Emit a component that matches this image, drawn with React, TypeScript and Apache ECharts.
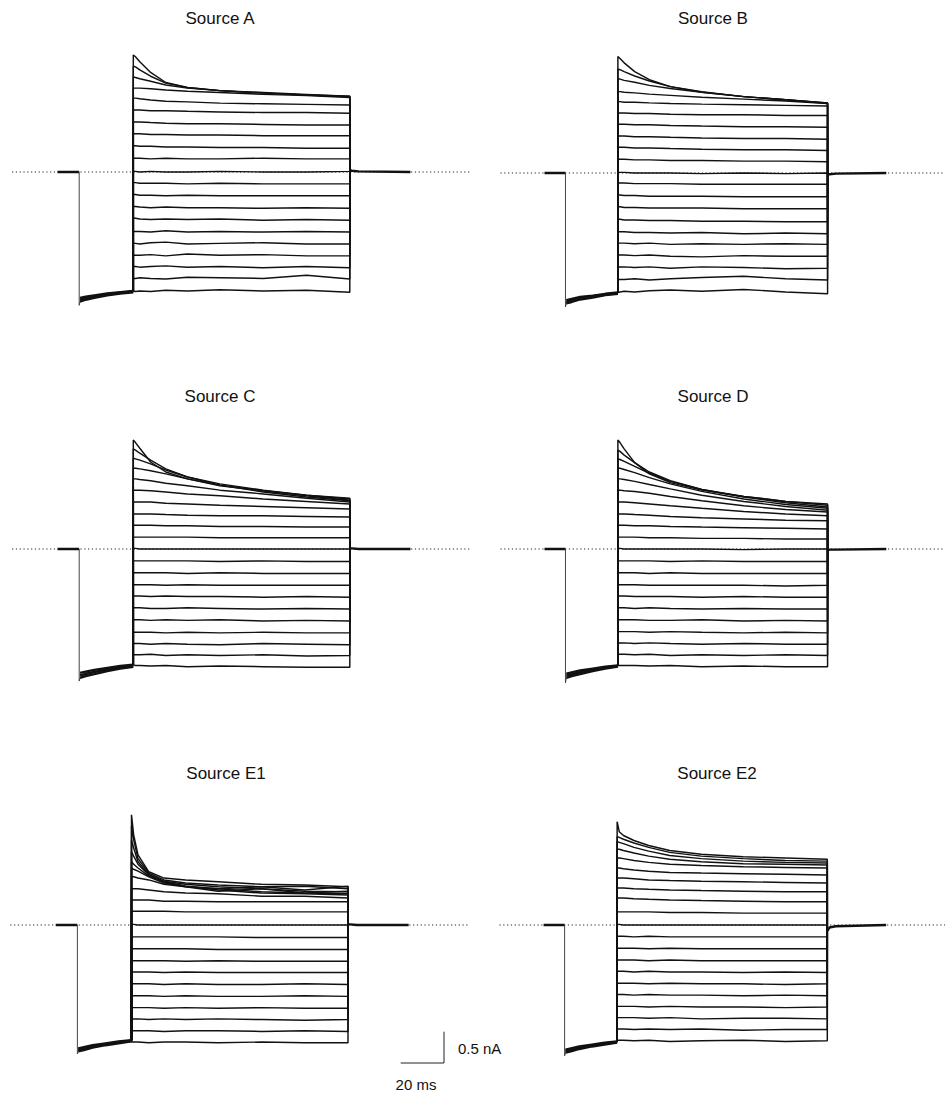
import React, { useEffect, useRef } from "react";
import * as echarts from "echarts";

// ---------- data (nA vs ms) ----------
const stepTimes = [0, 1, 3, 8, 15, 25, 40, 60, 80, 100];
const prepulseTimes = [-24.6, -22, -18, -12, -6, 0];
const tailTimes = [100, 101, 104, 128];
const holdingStart = -35;
const prepulseStart = -25;
const stepEnd = 100;
const viewMin = -56;
const viewMax = 156;
const yMin = -2.4;
const yMax = 2.0;

const titles = ["Source A", "Source B", "Source C", "Source D", "Source E1", "Source E2"];

// rows: sweep levels -10 ... +10, values at stepTimes
const sweepsA = [
  [-1.91, -1.91, -1.90, -1.91, -1.89, -1.90, -1.88, -1.90, -1.89, -1.92],
  [-1.70, -1.70, -1.69, -1.70, -1.71, -1.68, -1.69, -1.70, -1.65, -1.71],
  [-1.51, -1.51, -1.52, -1.51, -1.50, -1.52, -1.51, -1.53, -1.51, -1.53],
  [-1.33, -1.33, -1.33, -1.32, -1.34, -1.31, -1.33, -1.32, -1.34, -1.34],
  [-1.14, -1.14, -1.15, -1.13, -1.12, -1.15, -1.14, -1.13, -1.15, -1.15],
  [-0.95, -0.95, -0.95, -0.96, -0.94, -0.96, -0.95, -0.96, -0.95, -0.96],
  [-0.74, -0.74, -0.75, -0.76, -0.75, -0.76, -0.75, -0.77, -0.76, -0.77],
  [-0.55, -0.55, -0.56, -0.57, -0.56, -0.57, -0.57, -0.58, -0.57, -0.58],
  [-0.36, -0.36, -0.37, -0.37, -0.38, -0.37, -0.38, -0.38, -0.38, -0.38],
  [-0.17, -0.17, -0.18, -0.18, -0.18, -0.19, -0.18, -0.19, -0.19, -0.19],
  [0.01, 0.01, 0.00, 0.01, 0.00, 0.00, 0.01, 0.00, 0.00, 0.01],
  [0.22, 0.22, 0.22, 0.21, 0.22, 0.21, 0.21, 0.22, 0.21, 0.21],
  [0.42, 0.42, 0.41, 0.41, 0.40, 0.40, 0.39, 0.39, 0.38, 0.38],
  [0.61, 0.61, 0.61, 0.60, 0.60, 0.59, 0.59, 0.58, 0.58, 0.58],
  [0.80, 0.80, 0.80, 0.79, 0.78, 0.77, 0.77, 0.76, 0.75, 0.75],
  [0.99, 0.99, 0.99, 0.98, 0.98, 0.97, 0.96, 0.95, 0.95, 0.94],
  [1.18, 1.18, 1.17, 1.15, 1.13, 1.12, 1.10, 1.09, 1.08, 1.07],
  [1.34, 1.34, 1.34, 1.33, 1.31, 1.29, 1.27, 1.24, 1.22, 1.19],
  [1.52, 1.51, 1.49, 1.45, 1.39, 1.34, 1.30, 1.26, 1.23, 1.21],
  [1.69, 1.68, 1.63, 1.53, 1.42, 1.35, 1.30, 1.27, 1.24, 1.21],
  [1.87, 1.84, 1.76, 1.59, 1.43, 1.35, 1.30, 1.26, 1.23, 1.20],
];

const sweepsB = [
  [-1.90, -1.90, -1.89, -1.90, -1.88, -1.87, -1.89, -1.86, -1.90, -1.93],
  [-1.70, -1.70, -1.70, -1.69, -1.71, -1.69, -1.67, -1.65, -1.69, -1.71],
  [-1.50, -1.50, -1.50, -1.51, -1.50, -1.52, -1.50, -1.51, -1.53, -1.52],
  [-1.31, -1.31, -1.31, -1.32, -1.31, -1.33, -1.34, -1.32, -1.33, -1.33],
  [-1.12, -1.12, -1.12, -1.13, -1.12, -1.14, -1.13, -1.14, -1.13, -1.14],
  [-0.94, -0.94, -0.94, -0.95, -0.95, -0.96, -0.95, -0.97, -0.96, -0.97],
  [-0.74, -0.74, -0.75, -0.75, -0.76, -0.76, -0.77, -0.77, -0.78, -0.78],
  [-0.54, -0.54, -0.55, -0.55, -0.56, -0.56, -0.56, -0.57, -0.57, -0.57],
  [-0.35, -0.35, -0.36, -0.36, -0.37, -0.37, -0.37, -0.38, -0.38, -0.38],
  [-0.16, -0.16, -0.16, -0.17, -0.17, -0.17, -0.18, -0.18, -0.18, -0.18],
  [0.01, 0.01, 0.01, 0.00, 0.00, 0.00, -0.01, 0.00, -0.01, 0.00],
  [0.22, 0.22, 0.22, 0.21, 0.21, 0.20, 0.20, 0.19, 0.19, 0.18],
  [0.41, 0.41, 0.41, 0.40, 0.40, 0.39, 0.38, 0.37, 0.37, 0.36],
  [0.59, 0.59, 0.59, 0.58, 0.58, 0.57, 0.56, 0.55, 0.55, 0.54],
  [0.78, 0.78, 0.78, 0.77, 0.77, 0.76, 0.75, 0.74, 0.74, 0.73],
  [0.96, 0.96, 0.96, 0.95, 0.95, 0.94, 0.93, 0.93, 0.92, 0.92],
  [1.14, 1.14, 1.13, 1.13, 1.12, 1.11, 1.10, 1.09, 1.08, 1.07],
  [1.30, 1.30, 1.29, 1.28, 1.26, 1.24, 1.21, 1.18, 1.15, 1.11],
  [1.51, 1.50, 1.48, 1.45, 1.40, 1.35, 1.29, 1.22, 1.17, 1.12],
  [1.66, 1.65, 1.62, 1.55, 1.47, 1.38, 1.30, 1.22, 1.17, 1.11],
  [1.86, 1.83, 1.76, 1.62, 1.49, 1.38, 1.29, 1.22, 1.17, 1.12],
];

const sweepsC = [
  [-1.86, -1.86, -1.86, -1.87, -1.86, -1.88, -1.87, -1.88, -1.89, -1.89],
  [-1.69, -1.69, -1.69, -1.68, -1.70, -1.69, -1.70, -1.69, -1.71, -1.70],
  [-1.51, -1.51, -1.51, -1.52, -1.51, -1.52, -1.53, -1.51, -1.52, -1.53],
  [-1.33, -1.33, -1.33, -1.33, -1.34, -1.33, -1.34, -1.33, -1.34, -1.34],
  [-1.13, -1.13, -1.13, -1.14, -1.13, -1.14, -1.13, -1.15, -1.14, -1.15],
  [-0.94, -0.94, -0.94, -0.95, -0.95, -0.94, -0.95, -0.96, -0.95, -0.96],
  [-0.75, -0.75, -0.75, -0.76, -0.75, -0.76, -0.76, -0.77, -0.76, -0.77],
  [-0.57, -0.57, -0.57, -0.57, -0.58, -0.57, -0.58, -0.58, -0.58, -0.58],
  [-0.38, -0.38, -0.38, -0.38, -0.38, -0.39, -0.38, -0.39, -0.39, -0.39],
  [-0.19, -0.19, -0.19, -0.19, -0.19, -0.19, -0.20, -0.19, -0.20, -0.20],
  [0.01, 0.01, 0.00, 0.00, 0.00, 0.00, 0.00, 0.00, 0.00, 0.00],
  [0.19, 0.19, 0.19, 0.19, 0.19, 0.19, 0.18, 0.18, 0.18, 0.18],
  [0.38, 0.38, 0.38, 0.38, 0.37, 0.37, 0.36, 0.36, 0.35, 0.35],
  [0.56, 0.56, 0.56, 0.56, 0.55, 0.54, 0.53, 0.53, 0.52, 0.51],
  [0.75, 0.75, 0.75, 0.75, 0.73, 0.72, 0.70, 0.68, 0.66, 0.64],
  [0.94, 0.94, 0.94, 0.93, 0.91, 0.88, 0.85, 0.80, 0.76, 0.72],
  [1.12, 1.12, 1.11, 1.09, 1.05, 1.01, 0.94, 0.88, 0.81, 0.75],
  [1.29, 1.29, 1.28, 1.25, 1.20, 1.12, 1.02, 0.93, 0.85, 0.78],
  [1.45, 1.44, 1.42, 1.36, 1.26, 1.15, 1.04, 0.94, 0.86, 0.80],
  [1.60, 1.58, 1.53, 1.42, 1.28, 1.15, 1.02, 0.91, 0.83, 0.77],
  [1.74, 1.70, 1.61, 1.39, 1.23, 1.12, 1.01, 0.93, 0.86, 0.81],
];

const sweepsD = [
  [-1.86, -1.86, -1.86, -1.86, -1.87, -1.86, -1.88, -1.87, -1.88, -1.88],
  [-1.68, -1.68, -1.68, -1.69, -1.68, -1.70, -1.69, -1.70, -1.69, -1.70],
  [-1.50, -1.50, -1.50, -1.51, -1.50, -1.51, -1.52, -1.51, -1.52, -1.52],
  [-1.32, -1.32, -1.32, -1.32, -1.33, -1.32, -1.33, -1.34, -1.33, -1.34],
  [-1.13, -1.13, -1.13, -1.13, -1.14, -1.14, -1.13, -1.15, -1.14, -1.15],
  [-0.94, -0.94, -0.94, -0.95, -0.94, -0.95, -0.96, -0.95, -0.96, -0.96],
  [-0.75, -0.75, -0.75, -0.76, -0.76, -0.76, -0.77, -0.76, -0.77, -0.77],
  [-0.57, -0.57, -0.57, -0.57, -0.58, -0.58, -0.58, -0.58, -0.59, -0.58],
  [-0.38, -0.38, -0.38, -0.38, -0.39, -0.38, -0.39, -0.39, -0.39, -0.39],
  [-0.19, -0.19, -0.19, -0.19, -0.19, -0.20, -0.19, -0.20, -0.20, -0.20],
  [0.01, 0.01, 0.00, 0.00, 0.00, 0.00, 0.00, -0.01, 0.00, 0.00],
  [0.19, 0.19, 0.19, 0.19, 0.18, 0.18, 0.17, 0.17, 0.16, 0.16],
  [0.38, 0.38, 0.38, 0.37, 0.37, 0.36, 0.35, 0.34, 0.33, 0.32],
  [0.56, 0.56, 0.56, 0.55, 0.54, 0.52, 0.50, 0.48, 0.46, 0.45],
  [0.75, 0.75, 0.75, 0.74, 0.72, 0.69, 0.65, 0.60, 0.56, 0.53],
  [0.94, 0.94, 0.93, 0.92, 0.89, 0.84, 0.77, 0.69, 0.63, 0.59],
  [1.12, 1.12, 1.11, 1.08, 1.03, 0.96, 0.86, 0.76, 0.68, 0.62],
  [1.29, 1.29, 1.27, 1.22, 1.14, 1.04, 0.92, 0.80, 0.71, 0.65],
  [1.44, 1.43, 1.40, 1.32, 1.21, 1.08, 0.95, 0.84, 0.76, 0.72],
  [1.58, 1.56, 1.50, 1.38, 1.23, 1.09, 0.95, 0.83, 0.74, 0.67],
  [1.74, 1.70, 1.60, 1.38, 1.20, 1.06, 0.94, 0.84, 0.76, 0.70],
];

const sweepsE1 = [
  [-1.87, -1.87, -1.87, -1.88, -1.87, -1.87, -1.88, -1.87, -1.88, -1.88],
  [-1.69, -1.69, -1.69, -1.69, -1.70, -1.69, -1.69, -1.70, -1.69, -1.70],
  [-1.50, -1.50, -1.50, -1.51, -1.50, -1.51, -1.50, -1.51, -1.52, -1.51],
  [-1.32, -1.32, -1.32, -1.32, -1.33, -1.32, -1.33, -1.32, -1.33, -1.33],
  [-1.13, -1.13, -1.13, -1.13, -1.14, -1.13, -1.14, -1.14, -1.13, -1.14],
  [-0.94, -0.94, -0.94, -0.94, -0.95, -0.94, -0.95, -0.95, -0.94, -0.95],
  [-0.75, -0.75, -0.75, -0.75, -0.76, -0.75, -0.76, -0.76, -0.76, -0.76],
  [-0.57, -0.57, -0.57, -0.57, -0.57, -0.58, -0.57, -0.58, -0.58, -0.58],
  [-0.38, -0.38, -0.38, -0.38, -0.38, -0.38, -0.39, -0.39, -0.39, -0.39],
  [-0.19, -0.19, -0.19, -0.19, -0.19, -0.19, -0.19, -0.20, -0.20, -0.20],
  [0.01, 0.01, 0.00, 0.00, 0.00, 0.00, 0.00, 0.00, 0.00, 0.00],
  [0.22, 0.22, 0.22, 0.22, 0.22, 0.21, 0.21, 0.21, 0.21, 0.21],
  [0.40, 0.40, 0.40, 0.40, 0.38, 0.38, 0.37, 0.37, 0.37, 0.37],
  [0.58, 0.58, 0.58, 0.56, 0.53, 0.51, 0.50, 0.46, 0.46, 0.43],
  [0.77, 0.77, 0.75, 0.72, 0.65, 0.61, 0.58, 0.53, 0.51, 0.50],
  [0.91, 0.89, 0.86, 0.77, 0.67, 0.61, 0.54, 0.58, 0.51, 0.54],
  [1.01, 0.97, 0.91, 0.78, 0.69, 0.62, 0.56, 0.51, 0.50, 0.48],
  [1.17, 1.10, 0.97, 0.80, 0.69, 0.62, 0.58, 0.61, 0.56, 0.62],
  [1.36, 1.23, 1.01, 0.81, 0.70, 0.65, 0.61, 0.58, 0.54, 0.53],
  [1.58, 1.36, 1.06, 0.83, 0.72, 0.67, 0.64, 0.61, 0.62, 0.58],
  [1.76, 1.44, 1.12, 0.85, 0.75, 0.72, 0.69, 0.65, 0.64, 0.61],
];

const sweepsE2 = [
  [-1.84, -1.84, -1.84, -1.85, -1.84, -1.86, -1.85, -1.84, -1.86, -1.85],
  [-1.66, -1.66, -1.66, -1.67, -1.66, -1.67, -1.66, -1.68, -1.67, -1.67],
  [-1.48, -1.48, -1.48, -1.48, -1.49, -1.48, -1.50, -1.49, -1.49, -1.50],
  [-1.30, -1.30, -1.30, -1.30, -1.31, -1.30, -1.31, -1.31, -1.32, -1.31],
  [-1.11, -1.11, -1.11, -1.12, -1.11, -1.12, -1.12, -1.13, -1.12, -1.13],
  [-0.93, -0.93, -0.93, -0.93, -0.94, -0.93, -0.94, -0.94, -0.95, -0.94],
  [-0.74, -0.74, -0.74, -0.75, -0.74, -0.75, -0.75, -0.76, -0.75, -0.76],
  [-0.56, -0.56, -0.56, -0.56, -0.57, -0.56, -0.57, -0.57, -0.57, -0.57],
  [-0.37, -0.37, -0.37, -0.37, -0.38, -0.37, -0.38, -0.38, -0.38, -0.38],
  [-0.18, -0.18, -0.18, -0.19, -0.18, -0.19, -0.19, -0.19, -0.19, -0.19],
  [0.01, 0.01, 0.00, 0.00, 0.00, 0.00, 0.00, 0.00, 0.00, 0.00],
  [0.21, 0.21, 0.21, 0.21, 0.21, 0.20, 0.20, 0.19, 0.19, 0.19],
  [0.43, 0.43, 0.43, 0.42, 0.41, 0.40, 0.39, 0.38, 0.37, 0.37],
  [0.59, 0.59, 0.59, 0.58, 0.57, 0.56, 0.55, 0.54, 0.53, 0.53],
  [0.75, 0.75, 0.75, 0.74, 0.72, 0.71, 0.70, 0.69, 0.68, 0.67],
  [0.91, 0.91, 0.90, 0.88, 0.86, 0.84, 0.83, 0.82, 0.81, 0.80],
  [1.07, 1.07, 1.06, 1.03, 1.00, 0.97, 0.95, 0.93, 0.92, 0.91],
  [1.21, 1.21, 1.19, 1.15, 1.10, 1.05, 1.01, 0.98, 0.97, 0.96],
  [1.33, 1.32, 1.30, 1.24, 1.18, 1.11, 1.06, 1.02, 1.00, 0.99],
  [1.41, 1.40, 1.37, 1.31, 1.24, 1.16, 1.10, 1.06, 1.03, 1.02],
  [1.65, 1.49, 1.43, 1.35, 1.27, 1.19, 1.13, 1.09, 1.07, 1.05],
];

// prepulse: capacitive spike, upper and lower edge of the sweep bundle at prepulseTimes
const prepulseSpike = [-2.13, -2.14, -2.11, -2.14, -2.06, -2.09];
const prepulseUpperA = [-2.01, -1.99, -1.97, -1.94, -1.92, -1.90];
const prepulseLowerA = [-2.07, -2.04, -2.01, -1.97, -1.94, -1.92];
const prepulseUpperB = [-2.03, -2.01, -1.98, -1.96, -1.93, -1.91];
const prepulseLowerB = [-2.08, -2.06, -2.02, -1.99, -1.95, -1.93];
const prepulseUpperC = [-1.98, -1.96, -1.93, -1.90, -1.87, -1.85];
const prepulseLowerC = [-2.06, -2.03, -2.00, -1.95, -1.91, -1.88];
const prepulseUpperD = [-1.99, -1.97, -1.94, -1.91, -1.88, -1.86];
const prepulseLowerD = [-2.06, -2.03, -2.00, -1.95, -1.91, -1.88];
const prepulseUpperE1 = [-1.97, -1.95, -1.92, -1.89, -1.86, -1.84];
const prepulseLowerE1 = [-2.02, -2.00, -1.96, -1.92, -1.89, -1.86];
const prepulseUpperE2 = [-1.99, -1.97, -1.94, -1.91, -1.88, -1.86];
const prepulseLowerE2 = [-2.04, -2.02, -1.98, -1.94, -1.91, -1.88];

// tail currents at tailTimes
const tailA = [0.03, 0.02, 0.01, 0.0];
const tailB = [-0.02, -0.02, -0.01, 0.0];
const tailC = [0.01, 0.01, 0.0, 0.0];
const tailD = [-0.02, -0.01, -0.01, 0.0];
const tailE1 = [0.01, 0.01, 0.0, 0.0];
const tailE2 = [-0.1, -0.04, -0.02, 0.0];

// scale bar
const scaleBarMs = 20;
const scaleBarNA = 0.5;

// ---------- layout ----------
const MS_PX = 2.165;
const NA_PX = 62.6;
const layout = [
  { xs: 133.3, yb: 172, tx: 220, ty: 18 },
  { xs: 621.7, yb: 173, tx: 713, ty: 18 },
  { xs: 133.3, yb: 549, tx: 220, ty: 396 },
  { xs: 621.7, yb: 549, tx: 713, ty: 396 },
  { xs: 131.5, yb: 925, tx: 226, ty: 773 },
  { xs: 620.7, yb: 925, tx: 717, ty: 773 },
];

const panels = [
  { sweeps: sweepsA, up: prepulseUpperA, lo: prepulseLowerA, tail: tailA },
  { sweeps: sweepsB, up: prepulseUpperB, lo: prepulseLowerB, tail: tailB },
  { sweeps: sweepsC, up: prepulseUpperC, lo: prepulseLowerC, tail: tailC },
  { sweeps: sweepsD, up: prepulseUpperD, lo: prepulseLowerD, tail: tailD },
  { sweeps: sweepsE1, up: prepulseUpperE1, lo: prepulseLowerE1, tail: tailE1 },
  { sweeps: sweepsE2, up: prepulseUpperE2, lo: prepulseLowerE2, tail: tailE2 },
];

const INK = "#111111";

function buildOption() {
  const grid: any[] = [];
  const xAxis: any[] = [];
  const yAxis: any[] = [];
  const series: any[] = [];
  const graphic: any[] = [];

  panels.forEach((p, i) => {
    const L = layout[i];
    grid.push({
      left: L.xs + viewMin * MS_PX,
      top: L.yb - yMax * NA_PX,
      width: (viewMax - viewMin) * MS_PX,
      height: (yMax - yMin) * NA_PX,
      containLabel: false,
    });
    xAxis.push({ type: "value", gridIndex: i, min: viewMin, max: viewMax, show: false });
    yAxis.push({ type: "value", gridIndex: i, min: yMin, max: yMax, show: false });
    const base = {
      type: "line",
      xAxisIndex: i,
      yAxisIndex: i,
      symbol: "none",
      showSymbol: false,
      silent: true,
      animation: false,
    };
    // dotted zero-current line
    series.push({
      ...base,
      data: [[viewMin, 0], [viewMax, 0]],
      lineStyle: { color: "#222", width: 1, type: [1.2, 2.6] },
      z: 1,
    });
    const preEnd = p.up[p.up.length - 1];
    p.sweeps.forEach((row) => {
      const d: number[][] = [[0, preEnd]];
      stepTimes.forEach((t, k) => d.push([t, row[k]]));
      d.push([stepEnd, p.tail[0]]);
      series.push({ ...base, data: d, lineStyle: { color: INK, width: 1.45 }, z: 2 });
    });
    // holding
    series.push({
      ...base,
      data: [[holdingStart, 0], [prepulseStart, 0]],
      lineStyle: { color: INK, width: 2.6 },
      z: 3,
    });
    // prepulse onset
    series.push({
      ...base,
      data: [[prepulseStart, 0], [prepulseStart, prepulseSpike[i]], [prepulseTimes[0], p.lo[0]]],
      lineStyle: { color: "#444", width: 1 },
      z: 3,
    });
    series.push({
      ...base,
      data: prepulseTimes.map((t, k) => [t, p.up[k]]),
      lineStyle: { color: INK, width: 2.4 },
      z: 3,
    });
    series.push({
      ...base,
      data: prepulseTimes.map((t, k) => [t, p.lo[k]]),
      lineStyle: { color: INK, width: 2.4 },
      z: 3,
    });
    series.push({
      ...base,
      data: prepulseTimes.map((t, k) => [t, (p.up[k] + p.lo[k]) / 2]),
      lineStyle: { color: INK, width: 2.6 },
      z: 3,
    });
    // tail
    series.push({
      ...base,
      data: tailTimes.map((t, k) => [t, p.tail[k]]),
      lineStyle: { color: INK, width: 2.4 },
      z: 3,
    });
    graphic.push({
      type: "text",
      x: L.tx,
      y: L.ty,
      style: {
        text: titles[i],
        font: '17px "Liberation Sans", Arial, sans-serif',
        fill: "#111",
        textAlign: "center",
        textVerticalAlign: "middle",
      },
    });
  });

  // scale bar grid
  const si = panels.length;
  grid.push({ left: 400.7, top: 1031.7, width: scaleBarMs * MS_PX, height: scaleBarNA * NA_PX });
  xAxis.push({ type: "value", gridIndex: si, min: 0, max: scaleBarMs, show: false });
  yAxis.push({ type: "value", gridIndex: si, min: 0, max: scaleBarNA, show: false });
  series.push({
    type: "line",
    xAxisIndex: si,
    yAxisIndex: si,
    symbol: "none",
    silent: true,
    clip: false,
    data: [[0, 0], [scaleBarMs, 0], [scaleBarMs, scaleBarNA]],
    lineStyle: { color: "#222", width: 1 },
  });
  graphic.push({
    type: "text",
    x: 458,
    y: 1048,
    style: {
      text: `${scaleBarNA} nA`,
      font: '15px "Liberation Sans", Arial, sans-serif',
      fill: "#111",
      textAlign: "left",
      textVerticalAlign: "middle",
    },
  });
  graphic.push({
    type: "text",
    x: 416,
    y: 1084,
    style: {
      text: `${scaleBarMs} ms`,
      font: '15px "Liberation Sans", Arial, sans-serif',
      fill: "#111",
      textAlign: "center",
      textVerticalAlign: "middle",
    },
  });

  return {
    animation: false,
    backgroundColor: "#ffffff",
    grid,
    xAxis,
    yAxis,
    series,
    graphic,
  };
}

export default function App() {
  const ref = useRef<HTMLDivElement>(null);
  useEffect(() => {
    if (!ref.current) return;
    const chart = echarts.init(ref.current, undefined, { renderer: "svg" });
    chart.setOption(buildOption() as any);
    return () => chart.dispose();
  }, []);
  return (
    <div
      ref={ref}
      style={{ position: "absolute", left: 0, top: 0, width: 945, height: 1095, background: "#fff" }}
    />
  );
}
